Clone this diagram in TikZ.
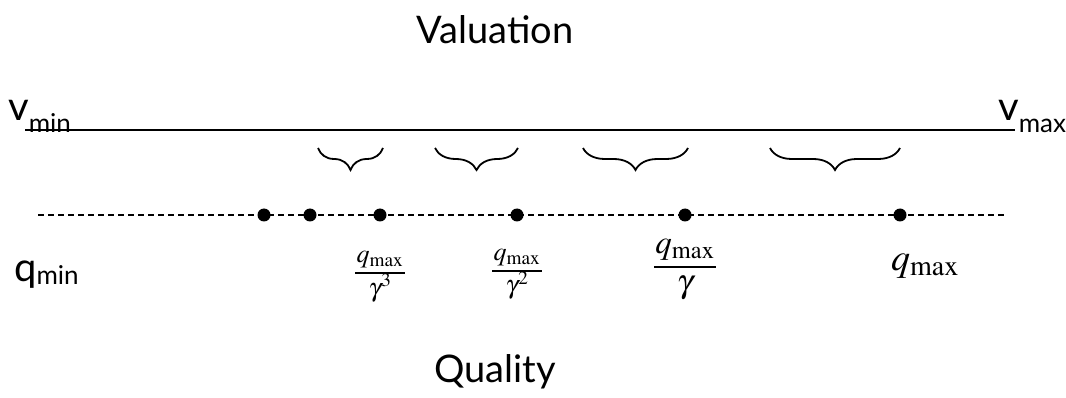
\documentclass[tikz,border=0pt]{standalone}
\usepackage{mathptmx}
\usepackage[no-math]{fontspec}
\setmainfont{Lato}
\usetikzlibrary{decorations.pathreplacing}
\begin{document}
\begin{tikzpicture}[x=1pt, y=-1pt,
  dot/.style={circle,fill=black,inner sep=0pt,minimum size=13pt},
  lbl/.style={inner sep=0pt},
  fracbar/.style={line width=1.2pt},
  bracket/.style={decorate,decoration={brace,mirror,amplitude=22pt},line width=1.8pt}]
\useasboundingbox (0,0) rectangle (1066,398);
% valuation axis
\def\ylv{130}
\def\ylq{215}
\node[lbl,font=\fontsize{38}{40}\selectfont] (val) at (495,30) {Valuation};
\coordinate (vl) at (25,\ylv);
\coordinate (vr) at (1015,\ylv);
\draw[line width=1.4pt] (vl) -- (vr);
\node[lbl,anchor=base west,font=\fontsize{40}{42}\selectfont] (vmin) at (8,121)
  {v\raisebox{-0.3em}{\fontsize{26}{28}\selectfont min}};
\node[lbl,anchor=base west,font=\fontsize{40}{42}\selectfont] (vmax) at (998,121)
  {v\raisebox{-0.3em}{\fontsize{26}{28}\selectfont max}};

% braces below the valuation line
\foreach \xa/\xb in {318/383, 435/518, 583/688, 770/900} {
  \draw[bracket] (\xa,148) -- (\xb,148);
}

% quality axis
\coordinate (ql) at (38,\ylq);
\coordinate (qr) at (1005,\ylq);
\draw[dashed,line width=1.2pt,dash pattern=on 6pt off 4pt] (ql) -- (qr);
\foreach \xx/\nm in {264/d1, 310/d2, 380/d3, 517/d4, 685/d5, 900/d6} {
  \node[dot] (\nm) at (\xx,\ylq) {};
}
\node[lbl,anchor=base west,font=\fontsize{40}{42}\selectfont] (qmin) at (14,282)
  {q\raisebox{-0.05em}{\fontsize{26}{28}\selectfont min}};

% labels under the points: numerator, bar, denominator
\foreach \xx/\nm/\pw/\fs/\yn/\yb/\yd in {380/l3/{^3}/26/263/273/296, 517/l2/{^2}/26/261/271/294, 685/l1/{}/33/254/267/292} {
  \node[lbl,anchor=base,font=\fontsize{\fs}{\fs}\selectfont] (\nm n) at (\xx,\yn) {$q_{\max}$};
  \node[lbl,anchor=base,font=\fontsize{\fs}{\fs}\selectfont] (\nm d) at (\xx,\yd) {$\gamma\pw$};
  \coordinate (\nm b) at (\xx,\yb);
  \draw[fracbar] ([xshift=-1pt]\nm n.west |- \nm b) -- ([xshift=1pt]\nm n.east |- \nm b);
}
\node[lbl,font=\fontsize{38}{42}\selectfont] (l0) at (925,266) {$q_{\max}$};

\node[lbl,font=\fontsize{38}{40}\selectfont] (qual) at (495,372) {Quality};
\end{tikzpicture}
\end{document}
